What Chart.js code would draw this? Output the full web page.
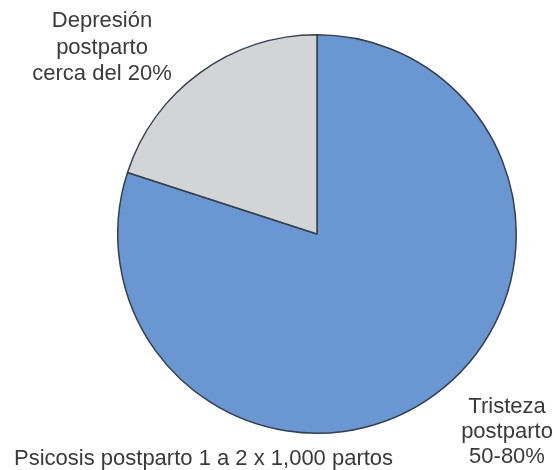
<!DOCTYPE html>
<html>
<head>
<meta charset="utf-8">
<script src="https://cdn.jsdelivr.net/npm/chart.js@4/dist/chart.umd.min.js"></script>
<style>
html,body{margin:0;padding:0;background:#fff;}
#wrap{width:554px;height:470px;position:relative;}
</style>
</head>
<body>
<div id="wrap"><canvas id="c" width="554" height="470"></canvas></div>
<script>
const categories = ["Tristeza postparto 50-80%", "Depresión postparto cerca del 20%"];
const values = [80, 20];
const sliceColors = ["#6a96d1", "#d3d4d6"];
const labelTristeza = ["Tristeza", "postparto", "50-80%"];
const labelDepresion = ["Depresión", "postparto", "cerca del 20%"];
const labelPsicosis = ["Psicosis postparto 1 a 2 x 1,000 partos"];

const textPlugin = {
  id: 'textLabels',
  afterDraw(chart) {
    const ctx = chart.ctx;
    ctx.save();
    ctx.fillStyle = '#3a3a3a';
    ctx.font = '22px "Liberation Sans", Arial, sans-serif';
    ctx.textAlign = 'center';
    ctx.textBaseline = 'alphabetic';
    labelDepresion.forEach((t, i) => ctx.fillText(t, 102, 27 + i * 26.5));
    labelTristeza.forEach((t, i) => ctx.fillText(t, 507, 413 + i * 25));
    ctx.textAlign = 'left';
    ctx.fillText(labelPsicosis[0], 14, 465);
    ctx.restore();
  }
};

new Chart(document.getElementById('c'), {
  type: 'pie',
  data: {
    labels: categories,
    datasets: [{
      data: values,
      backgroundColor: sliceColors,
      borderColor: '#34404e',
      borderWidth: 1.5,
      borderAlign: 'center'
    }]
  },
  options: {
    responsive: false,
    animation: false,
    layout: { padding: { top: 34, bottom: 36, left: 117, right: 37 } },
    plugins: { legend: { display: false }, tooltip: { enabled: false } }
  },
  plugins: [textPlugin]
});
</script>
</body>
</html>
